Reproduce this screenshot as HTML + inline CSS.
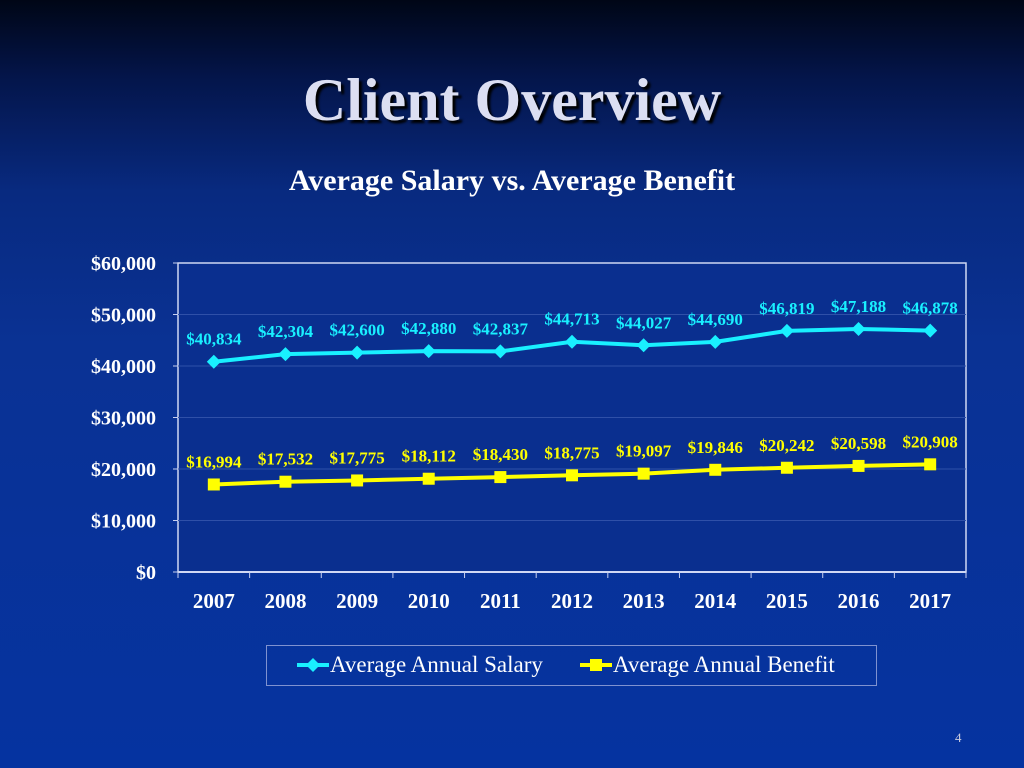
<!DOCTYPE html>
<html><head><meta charset="utf-8"><style>
html,body{margin:0;padding:0}
body{width:1024px;height:768px;overflow:hidden;position:relative;font-family:"Liberation Serif",serif;
background:linear-gradient(180deg,#000616 0%,#04154a 10%,#082a80 25%,#0a3294 45%,#0533a0 100%);}
#title{position:absolute;left:0;width:1024px;top:66px;text-align:center;font-size:60px;font-weight:bold;color:#dcdff2;text-shadow:3px 3px 2px #000;}
#subtitle{position:absolute;left:0;width:1024px;top:164px;text-align:center;font-size:30px;font-weight:bold;color:#fff;}
#pnum{position:absolute;left:955px;top:730px;font-size:13px;color:#ccd;}
#legend{position:absolute;left:266px;top:645px;width:611px;height:41px;border:1px solid #7f92d0;box-sizing:border-box;}
</style></head><body>
<div id="title">Client Overview</div>
<div id="subtitle">Average Salary vs. Average Benefit</div>
<div id="legend"></div>
<svg id="chart" width="1024" height="768" style="position:absolute;left:0;top:0"></svg>
<div id="pnum">4</div>
<script>
const years=["2007","2008","2009","2010","2011","2012","2013","2014","2015","2016","2017"];
const salary=[40834,42304,42600,42880,42837,44713,44027,44690,46819,47188,46878];
const benefit=[16994,17532,17775,18112,18430,18775,19097,19846,20242,20598,20908];
const yTicks=[0,10000,20000,30000,40000,50000,60000];
const NS="http://www.w3.org/2000/svg";
const svg=document.getElementById('chart');
const X0=178,X1=966,Y0=572,Y1=263,YMAX=60000;
const bw=(X1-X0)/years.length;
const xs=i=>X0+bw*(i+0.5);
const ys=v=>Y0-(v/YMAX)*(Y0-Y1);
const fmt=v=>"$"+v.toLocaleString("en-US");
function mk(t,a,p){const e=document.createElementNS(NS,t);for(const k in a)e.setAttribute(k,a[k]);(p||svg).appendChild(e);return e;}
const plot=mk('rect',{x:X0,y:Y1,width:X1-X0,height:Y0-Y1,fill:'#0a2f8f',stroke:'#d0d8f4','stroke-width':1.5});


yTicks.forEach(v=>{
  const y=ys(v);
  if(v>0&&v<YMAX){const g=mk('line',{x1:X0,x2:X1,y1:y,y2:y,stroke:'#2f50a8','stroke-width':1});
  
  }
  mk('line',{x1:X0-5,x2:X0,y1:y,y2:y,stroke:'#c8d0f0'});
  const t=mk('text',{x:156,y:y+7,'text-anchor':'end','font-size':20,'font-weight':'bold',fill:'#fff','font-family':'Liberation Serif'});
  t.textContent=fmt(v);
  
  
});
mk('line',{x1:X0,x2:X1,y1:Y0,y2:Y0,stroke:'#d0d8f4','stroke-width':2});
for(let i=0;i<=years.length;i++){const x=X0+bw*i;mk('line',{x1:x,x2:x,y1:Y0,y2:Y0+6,stroke:'#c8d0f0'});}
years.forEach((c,i)=>{
  const t=mk('text',{x:xs(i),y:608,'text-anchor':'middle','font-size':21,'font-weight':'bold',fill:'#fff','font-family':'Liberation Serif'});
  t.textContent=c;
  
  
});
function series(vals,color,shape,name){
  const l=mk('polyline',{points:vals.map((v,i)=>xs(i)+','+ys(v)).join(' '),fill:'none',stroke:color,'stroke-width':4});
  
  
  vals.forEach((v,i)=>{
    const x=xs(i),y=ys(v);let m;
    if(shape==='d')m=mk('polygon',{points:`${x},${y-7} ${x+7},${y} ${x},${y+7} ${x-7},${y}`,fill:color});
    else m=mk('rect',{x:x-6,y:y-6,width:12,height:12,fill:color});
    
    
    const t=mk('text',{x:x,y:y-17,'text-anchor':'middle','font-size':17,'font-weight':'bold',fill:color,'font-family':'Liberation Serif'});
    t.textContent=fmt(v);
    
    
  });
}
series(salary,'#19f0ff','d','salary');
series(benefit,'#ffff00','s','benefit');
function leg(x,color,shape,label,name){
  mk('line',{x1:x,x2:x+32,y1:665,y2:665,stroke:color,'stroke-width':4});
  if(shape==='d')mk('polygon',{points:`${x+16},658 ${x+23},665 ${x+16},672 ${x+9},665`,fill:color});
  else mk('rect',{x:x+10,y:659,width:12,height:12,fill:color});
  const t=mk('text',{x:x+33,y:672,'font-size':23,fill:'#fff','font-family':'Liberation Serif'});
  t.textContent=label;
  
  
}
leg(297,'#19f0ff','d','Average Annual Salary','legend-salary');
leg(580,'#ffff00','s','Average Annual Benefit','legend-benefit');
</script>
</body></html>
